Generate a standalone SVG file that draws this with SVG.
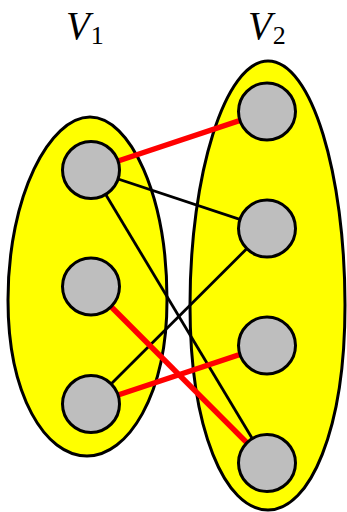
<svg xmlns="http://www.w3.org/2000/svg" width="347" height="512" viewBox="0 0 347 512">
<style>
.set{fill:#ffff00;stroke:#000;stroke-width:3}
.node{fill:#bebebe;stroke:#000;stroke-width:3}
.e{stroke:#000;stroke-width:2.8;fill:none}
.r{stroke:#ff0000;stroke-width:5.5;fill:none}
.lbl{font-family:"Liberation Serif",serif;fill:#000}
</style>
<rect width="347" height="512" fill="#fff"/>
<g id="set-V1">
<path class="set" d="M90,117 C130,117 167,195 167,300 C167,395 128,456 87,456 C45,456 8,395 8,300 C8,195 50,117 90,117 Z"/>
</g>
<g id="set-V2">
<path class="set" d="M268,61 C312,61 345,175 345,305 C345,430 310,510 268,510 C225,510 190,430 190,305 C190,175 225,61 268,61 Z"/>
</g>
<g id="connectors">
<line class="e" x1="91" y1="170" x2="267" y2="228.5"/>
<line class="e" x1="91" y1="170" x2="267" y2="463"/>
<line class="e" x1="91" y1="404" x2="267" y2="228.5"/>
<line class="r" x1="91" y1="170" x2="267" y2="111.5"/>
<line class="r" x1="91" y1="286.5" x2="267" y2="463"/>
<line class="r" x1="91" y1="404" x2="267" y2="345.5"/>
</g>
<g id="u1"><circle class="node" cx="91" cy="170" r="28.5"/></g>
<g id="u2"><circle class="node" cx="91" cy="286.5" r="28.5"/></g>
<g id="u3"><circle class="node" cx="91" cy="404" r="28.5"/></g>
<g id="v1"><circle class="node" cx="267" cy="111.5" r="28.5"/></g>
<g id="v2"><circle class="node" cx="267" cy="228.5" r="28.5"/></g>
<g id="v3"><circle class="node" cx="267" cy="345.5" r="28.5"/></g>
<g id="v4"><circle class="node" cx="267" cy="463" r="28.5"/></g>
<g id="label-V1"><text class="lbl" x="66" y="39"><tspan font-size="39" font-style="italic">V</tspan><tspan dx="1" dy="5" font-size="26">1</tspan></text></g>
<g id="label-V2"><text class="lbl" x="248" y="39"><tspan font-size="39" font-style="italic">V</tspan><tspan dx="1" dy="5" font-size="26">2</tspan></text></g>
</svg>
